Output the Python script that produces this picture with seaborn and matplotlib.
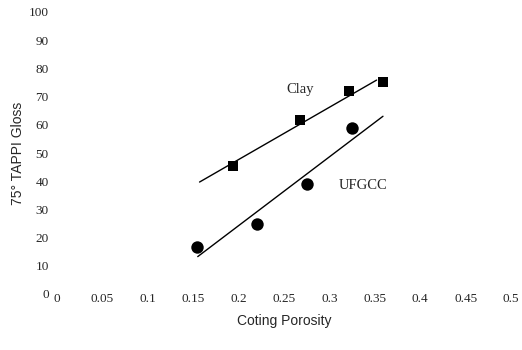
import numpy as np
import pandas as pd
import matplotlib
matplotlib.use("Agg")
import matplotlib.pyplot as plt
import seaborn as sns

# Coating porosity vs 75° TAPPI gloss for two pigments
clay_porosity = [0.194, 0.268, 0.322, 0.359]
clay_gloss = [45.4, 61.7, 72.0, 75.2]
ufgcc_porosity = [0.154, 0.220, 0.275, 0.325]
ufgcc_gloss = [16.7, 24.8, 39.0, 58.9]

# x-range spanned by each fitted trend line
clay_fit_range = [0.157, 0.352]
ufgcc_fit_range = [0.155, 0.359]

x_ticks = [0, 0.05, 0.1, 0.15, 0.2, 0.25, 0.3, 0.35, 0.4, 0.45, 0.5]
x_tick_labels = ["0", "0.05", "0.1", "0.15", "0.2", "0.25", "0.3", "0.35", "0.4", "0.45", "0.5"]
y_ticks = [0, 10, 20, 30, 40, 50, 60, 70, 80, 90, 100]

sns.set_style("white")

fig = plt.figure(figsize=(5.22, 3.5), dpi=100)
ax = fig.add_axes([57 / 522, 1 - 294 / 350, (511 - 57) / 522, (294 - 12) / 350])

clay = pd.DataFrame({"porosity": clay_porosity, "gloss": clay_gloss})
ufgcc = pd.DataFrame({"porosity": ufgcc_porosity, "gloss": ufgcc_gloss})


def fit_line(df, xr):
    slope, intercept = np.polyfit(df["porosity"], df["gloss"], 1)
    xs = np.array(xr)
    return pd.DataFrame({"porosity": xs, "gloss": slope * xs + intercept})


sns.lineplot(data=fit_line(clay, clay_fit_range), x="porosity", y="gloss",
             color="black", lw=1.0, ax=ax)
sns.lineplot(data=fit_line(ufgcc, ufgcc_fit_range), x="porosity", y="gloss",
             color="black", lw=1.0, ax=ax)
sns.scatterplot(data=clay, x="porosity", y="gloss", marker="s", s=55,
                color="black", edgecolor="black", linewidth=0, ax=ax, zorder=3)
sns.scatterplot(data=ufgcc, x="porosity", y="gloss", marker="o", s=80,
                color="black", edgecolor="black", linewidth=0, ax=ax, zorder=3)

ax.text(0.268, 72.5, "Clay", family="Liberation Serif", fontsize=10.5,
        ha="center", va="center")
ax.text(0.337, 38.5, "UFGCC", family="Liberation Serif", fontsize=10.5,
        ha="center", va="center")

ax.set_xlim(0, 0.5)
ax.set_ylim(0, 100)
ax.set_xticks(x_ticks)
ax.set_xticklabels(x_tick_labels)
ax.set_yticks(y_ticks)
for lab in ax.get_xticklabels() + ax.get_yticklabels():
    lab.set_family("Liberation Serif")
    lab.set_fontsize(9.5)
ax.tick_params(axis="both", length=0)
ax.tick_params(axis="x", pad=-1)
ax.tick_params(axis="y", pad=6)
for sp in ax.spines.values():
    sp.set_visible(False)

ax.set_xlabel("Coting Porosity", family="Liberation Sans", fontsize=10, labelpad=7)
ax.set_ylabel("75° TAPPI Gloss", family="Liberation Sans", fontsize=10, labelpad=3)

fig.savefig("out.png", dpi=100)
